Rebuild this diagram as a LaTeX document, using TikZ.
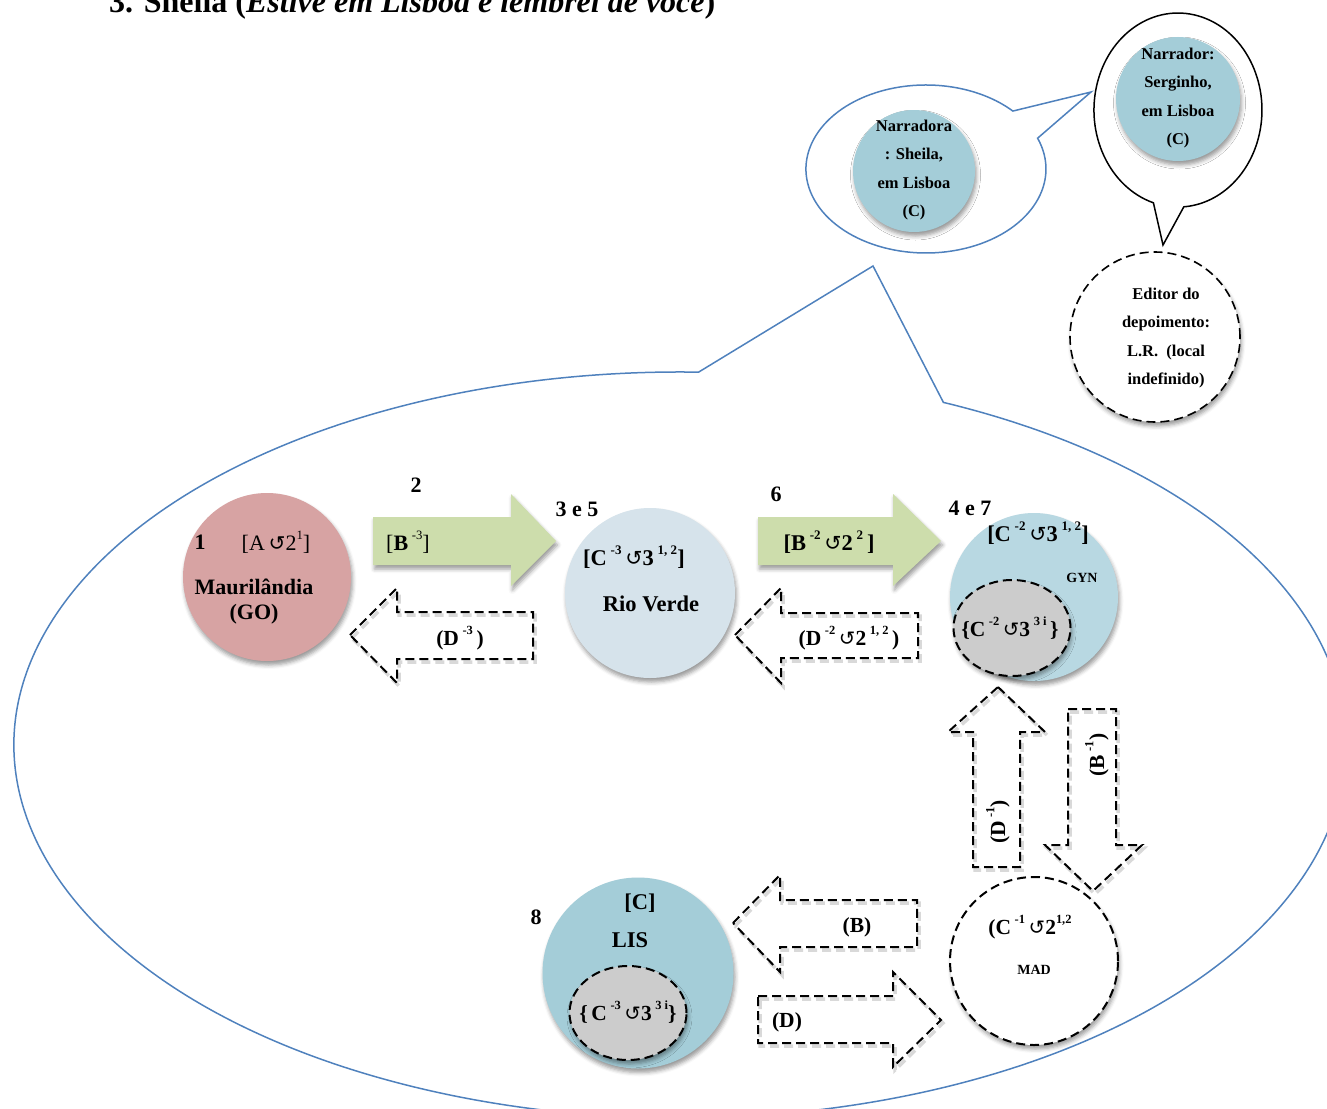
\documentclass[tikz,border=0pt]{standalone}
\usepackage{fontspec}
\setmainfont{Liberation Serif}
\newfontfamily\symfont{DejaVu Sans}
\usetikzlibrary{shapes.geometric,shadows.blur}

\definecolor{bubbleblue}{RGB}{79,129,189}
\definecolor{rose}{RGB}{215,163,163}
\definecolor{aqua}{RGB}{164,205,216}
\definecolor{paleaqua}{RGB}{184,216,226}
\definecolor{mist}{RGB}{214,227,235}
\definecolor{sage}{RGB}{205,221,172}
\definecolor{stone}{RGB}{204,204,204}

% anticlockwise circle arrow and small raised indices
\newcommand\ccw{\scalebox{0.92}{\symfont\mdseries ↺}}
\newcommand\sups[1]{\raisebox{0.5em}{\scalebox{0.58}{#1}}}
\newcommand\fs[1]{\fontsize{#1}{#1}\selectfont}

\tikzset{
  txt/.style={inner sep=0pt, font=\bfseries\fs{22.5}},
  lab/.style={inner sep=0pt, font=\bfseries\fs{21.5}},
  num/.style={inner sep=0pt, font=\bfseries\fs{22}},
  tiny/.style={inner sep=0pt, font=\bfseries\fs{14}},
  bubbletxt/.style={inner sep=0pt, align=center, font=\bfseries\fontsize{16.5}{28.3}\selectfont},
  softshadow/.style={blur shadow={shadow xshift=1.5pt, shadow yshift=-4pt,
      shadow blur radius=4pt, shadow opacity=40}},
  disc/.style={circle, draw=none, softshadow},
  dashln/.style={draw=black, line width=2pt, dash pattern=on 9pt off 5pt, line join=miter},
  dshade/.style={draw=black!15, line width=3.5pt, dash pattern=on 9pt off 5pt},
  greenarrow/.style={fill=sage, draw=none, softshadow},
  blueline/.style={draw=bubbleblue, line width=1.5pt, line join=miter},
}

% dashed block arrow with a faint offset shadow
\newcommand\dashedarrow[1]{%
  \draw[dshade, shift={(2,3)}] #1;
  \draw[dashln] #1;}

\begin{document}
\begin{tikzpicture}[x=1pt, y=-1pt]
\useasboundingbox (0,0) rectangle (1327,1108);
\clip (0,0) rectangle (1327,1108);

% heading
\node[anchor=base west, inner sep=0pt, font=\bfseries\fs{32}] (title) at (109,13)
  {3. Sheila (\textit{Estive em Lisboa e lembrei de você})};

% large speech bubble holding the journey
\draw[blueline] (943.4,402.4) arc[start angle=-66.7, end angle=271.6, x radius=666, y radius=373]
  -- (873,266) -- cycle;

% Sheila's bubble
\draw[blueline, fill=white] (1037.6,138.2) arc[start angle=-21.5, end angle=316.4, x radius=120, y radius=84]
  -- (1091,92) -- cycle;
\node[disc, fill=aqua, minimum size=122pt] (sheila) at (914,171) {};
\node[bubbletxt] (sheilatxt) at (914,170) {Narradora\\: Sheila,\\em Lisboa\\(C)};

% Serginho's bubble
\draw[draw=black, line width=1.5pt, fill=white, line join=miter] (1153.4,202.8)
  arc[start angle=107, end angle=446, x radius=84, y radius=97] -- (1163,245) -- cycle;
\node[disc, fill=aqua, minimum size=124pt] (serginho) at (1178,99) {};
\node[bubbletxt] (serginhotxt) at (1178,98) {Narrador:\\Serginho,\\em Lisboa\\(C)};

% editor
\node[circle, fill=white, dashln, line width=1.6pt, minimum size=170pt, softshadow] (editor) at (1155,337) {};
\node[bubbletxt] (editortxt) at (1166,338) {Editor do\\depoimento:\\L.R.\ \ (local\\indefinido)};

% Mauril\^andia
\node[disc, fill=rose, minimum size=168pt] (maur) at (267,577) {};
\node[num] (n1) at (200,542) {1};
\node[inner sep=0pt, font=\fs{22}] (maurcode) at (276,542) {[A\,\ccw2\sups{1}]};
\node[txt, align=center, font=\bfseries\fontsize{22}{25}\selectfont] (maurname) at (254,602) {Maurilândia\\(GO)};

% move 2
\draw[greenarrow] (373,517) -- (511,517) -- (511,494) -- (556,541) -- (511,586) -- (511,565) -- (373,565) -- cycle;
\node[num] (n2) at (416,485) {2};
\node[inner sep=0pt, font=\fs{22}] (b3) at (408,542) {[\textbf{B}\,\sups{-3}]};

% return D-3
\dashedarrow{(350,635) -- (397,588) -- (397,612) -- (533,612) -- (533,659) -- (397,659) -- (397,683) -- cycle}
\node[lab] (d3) at (460,638) {(D\,\sups{-3}\,)};

% Rio Verde
\node[disc, fill=mist, minimum size=170pt] (rio) at (650,593) {};
\node[num] (n35) at (577,509) {3 e 5};
\node[txt] (riocode) at (634,557) {[C\,\sups{-3}\,\ccw3\,\sups{1, 2}]};
\node[txt] (rioname) at (651,604) {Rio Verde};

% move 6
\draw[greenarrow] (758,517) -- (893,517) -- (893,494) -- (941,541) -- (893,586) -- (893,565) -- (758,565) -- cycle;
\node[num] (n6) at (776,494) {6};
\node[txt] (b2) at (829,542) {[B\,\sups{-2}\,\ccw2\,\sups{2}\,]};

% return D-2
\dashedarrow{(735,635) -- (781,588) -- (781,613) -- (918,613) -- (918,658) -- (781,658) -- (781,683) -- cycle}
\node[lab] (d2) at (849,638) {(D\,\sups{-2}\,\ccw2\,\sups{1, 2}\,)};

% Goi\^ania
\node[disc, fill=paleaqua, minimum size=168pt] (gyn) at (1034,597) {};
\node[num] (n47) at (970,508) {4 e 7};
\node[txt] (gyncode) at (1038,533) {[C\,\sups{-2}\,\ccw3\,\sups{1, 2}]};
\node[tiny] (gynname) at (1082,578) {GYN};
\node[ellipse, fill=stone, dashln, minimum width=117pt, minimum height=96pt, softshadow] (gyninner) at (1012,628) {};
\node[lab] (gyninnertxt) at (1010,628) {\{C\,\sups{-2}\,\ccw3\,\sups{3 i}\,\}};

% Madrid
\node[circle, fill=white, dashln, minimum size=168pt, softshadow] (mad) at (1034,961) {};
\node[lab] (madcode) at (1030,927) {(C\,\sups{-1}\,\ccw2\sups{1,2}};
\node[tiny] (madname) at (1034,970) {MAD};

% D-1 up to GYN, B-1 down to MAD
\dashedarrow{(998,687) -- (1045,732) -- (1020,732) -- (1020,867) -- (973,867) -- (973,732) -- (948,732) -- cycle}
\node[lab, rotate=90] (d1) at (998,822) {(D\,\sups{-1})};
\dashedarrow{(1068,709) -- (1116,709) -- (1116,845) -- (1142,845) -- (1093,891) -- (1045,845) -- (1068,845) -- cycle}
\node[lab, rotate=90] (b1) at (1097,755) {(B\,\sups{-1})};

% Lisboa
\node[disc, fill=aqua, minimum size=191pt] (lis) at (638,973) {};
\node[num] (n8) at (536,917) {8};
\node[txt] (liscode) at (640,903) {[C]};
\node[txt] (lisname) at (630,940) {LIS};
\node[ellipse, fill=stone, dashln, minimum width=117pt, minimum height=94pt, softshadow] (lisinner) at (628,1013) {};
\node[lab] (lisinnertxt) at (628,1012) {\{\,C\,\sups{-3}\,\ccw3\,\sups{3 i}\}};

% B and D between LIS and MAD
\dashedarrow{(733,923) -- (780,875) -- (780,900) -- (917,900) -- (917,947) -- (780,947) -- (780,972) -- cycle}
\node[lab] (bb) at (857,927) {(B)};
\dashedarrow{(758,996) -- (893,996) -- (893,972) -- (941,1020) -- (893,1067) -- (893,1043) -- (758,1043) -- cycle}
\node[lab] (dd) at (787,1022) {(D)};

\end{tikzpicture}
\end{document}
